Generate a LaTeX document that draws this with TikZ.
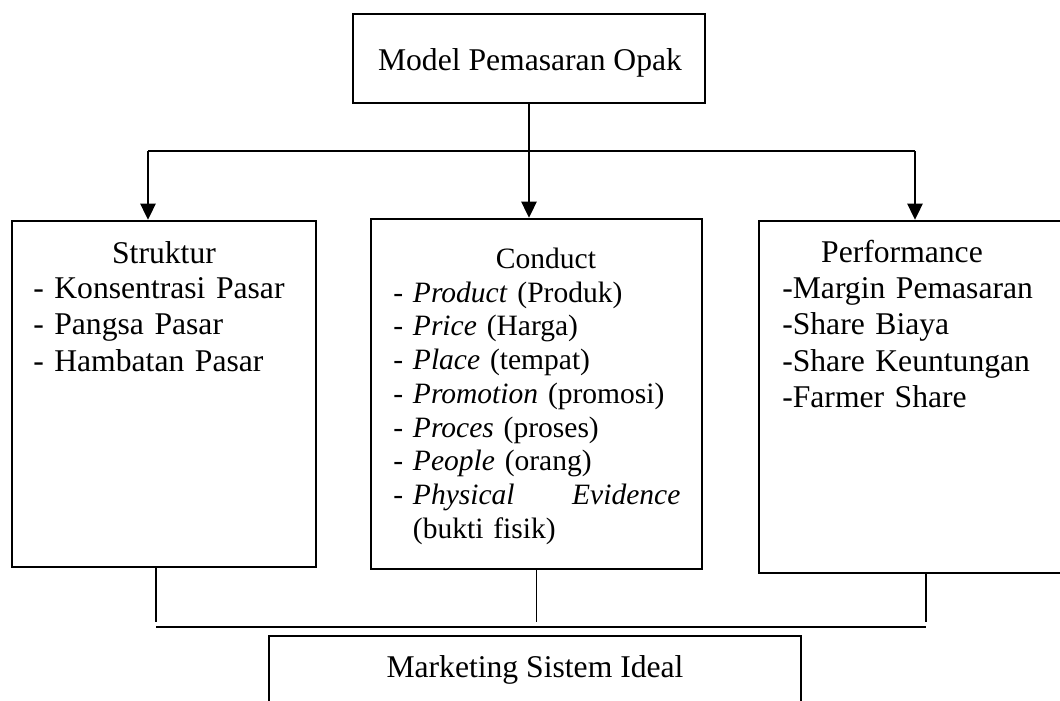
\documentclass[tikz,border=0pt]{standalone}
\usepackage{fontspec}
\setmainfont{Liberation Serif}
\usetikzlibrary{arrows.meta}
\tikzset{
  box/.style={draw, line width=1.7pt, inner sep=0pt},
  link/.style={line width=0.8pt},
  arr/.style={link, -{Triangle[length=11.5pt,width=11pt]}},
  txt/.style={inner sep=0pt, font=\fontsize{22.5}{26}\selectfont},
  txts/.style={inner sep=0pt, font=\fontsize{21}{24}\selectfont}
}

\begin{document}
\begin{tikzpicture}[x=0.025cm, y=-0.025cm]
\useasboundingbox (0,0) rectangle (1060,700);
% Boxes
\node[box, minimum width=8.8cm, minimum height=2.225cm] (model) at (529,58.5) {};
\node[box, minimum width=7.6cm, minimum height=8.65cm] (struk) at (164,394) {};
\node[box, minimum width=8.275cm, minimum height=8.75cm] (cond) at (536.5,394) {};
\node[box, minimum width=7.9cm, minimum height=8.8cm] (perf) at (917,397) {};
\node[box, minimum width=13.3cm, minimum height=2.1cm] (ideal) at (535,678) {};
% Texts
\node[txt, anchor=base] (modeltxt) at (530,70) {Model Pemasaran Opak};
\node[txt, anchor=base] (strukhead) at (164,263) {Struktur};
\node[txt, anchor=base west, text width=7cm, align=left] (struklist) at (33,298)
  {- Konsentrasi Pasar\\- Pangsa Pasar\\- Hambatan Pasar};
\node[txts, anchor=base] (condhead) at (546,268) {Conduct};
\node[txts, anchor=base west, text width=7.175cm, align=left] (condlist) at (393,302)
  {- \textit{Product} (Produk)\\
   - \textit{Price} (Harga)\\
   - \textit{Place} (tempat)\\
   - \textit{Promotion} (promosi)\\
   - \textit{Proces} (proses)\\
   - \textit{People} (orang)\\
   - \textit{Physical}\hfill\textit{Evidence}\\
   \phantom{- }(bukti fisik)};
\node[txt, anchor=base] (perfhead) at (902,262) {Performance};
\node[txt, anchor=base west, text width=6.5cm, align=left] (perflist) at (782,298)
  {-Margin Pemasaran\\-Share Biaya\\-Share Keuntungan\\-Farmer Share};
\node[txt, anchor=base] (idealtxt) at (535,677) {Marketing Sistem Ideal};
% Top connectors
\coordinate (jl) at (148,151);
\coordinate (jr) at (915,151);
\draw[link] (jl) -- (jr);
\draw[arr] (model.south) -- (model.south |- cond.north);
\draw[arr] (jl) -- (jl |- struk.north);
\draw[arr] (jr) -- (jr |- perf.north);
% Bottom connectors
\coordinate (kl) at (156,627);
\coordinate (kr) at (926,627);
\coordinate (dl) at (156,622);
\coordinate (dr) at (926,622);
\draw[link] (kl) -- (kr);
\draw[link] (dl |- struk.south) -- (dl);
\draw[link] (cond.south) -- (cond.south |- dl);
\draw[link] (dr |- perf.south) -- (dr);
\end{tikzpicture}
\end{document}
